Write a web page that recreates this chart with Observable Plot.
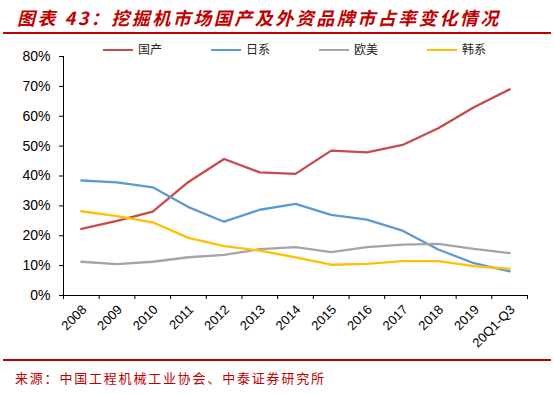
<!DOCTYPE html>
<html><head><meta charset="utf-8">
<script src="https://cdn.jsdelivr.net/npm/d3@7"></script>
<script src="https://cdn.jsdelivr.net/npm/@observablehq/plot@0.6"></script>
<style>
body{margin:0;background:#fff;width:554px;height:394px;position:relative;overflow:hidden;font-family:"Noto Sans CJK SC",sans-serif;}
#title{position:absolute;left:17px;top:4px;font-size:18px;font-weight:bold;font-style:italic;color:#C00000;letter-spacing:2.5px;white-space:nowrap;line-height:26px;}
.rule{position:absolute;left:3px;width:548px;height:2px;background:#C00000;}
#chart{position:absolute;left:0;top:36px;}
#legend{position:absolute;top:40px;left:0;width:554px;height:18px;}
.li{position:absolute;top:0;font-size:12px;line-height:18px;color:#222;white-space:nowrap;}
.li span{display:inline-block;width:30px;height:2px;vertical-align:middle;margin-right:5px;position:relative;top:-1px;}
#source{position:absolute;left:15px;top:368px;font-size:13px;color:#C00000;letter-spacing:1.8px;white-space:nowrap;line-height:20px;}
</style></head>
<body>
<div id="title">图表 43：挖掘机市场国产及外资品牌市占率变化情况</div>
<div class="rule" style="top:32px"></div>
<div id="chart"></div>
<div id="legend"></div>
<div class="rule" style="top:359px"></div>
<div id="source">来源：中国工程机械工业协会、中泰证券研究所</div>
<script>
const years = ["2008","2009","2010","2011","2012","2013","2014","2015","2016","2017","2018","2019","20Q1-Q3"];
const seriesNames = ["国产","日系","欧美","韩系"];
const seriesColors = ["#C94A4A","#5B9BD5","#A5A5A5","#FFC000"];
const domestic = [22.3, 25.0, 28.1, 38.0, 45.7, 41.2, 40.7, 48.5, 47.9, 50.4, 56.0, 63.0, 69.0];
const japan    = [38.5, 37.9, 36.2, 29.6, 24.7, 28.7, 30.7, 27.0, 25.4, 21.7, 15.4, 10.8, 8.1];
const western  = [11.3, 10.5, 11.3, 12.8, 13.6, 15.5, 16.2, 14.5, 16.2, 17.0, 17.3, 15.6, 14.2];
const korean   = [28.2, 26.6, 24.5, 19.3, 16.5, 15.0, 12.8, 10.3, 10.6, 11.5, 11.5, 9.8, 8.9];
const yTicks = [0,10,20,30,40,50,60,70,80];

const seriesValues = [domestic, japan, western, korean];
const data = [];
seriesValues.forEach((vals, k) => vals.forEach((v, i) => data.push({i, v, s: seriesNames[k]})));

const plot = Plot.plot({
  width: 554, height: 322,
  marginTop: 20, marginBottom: 63, marginLeft: 63, marginRight: 27,
  x: {type: "linear", domain: [-0.5, years.length - 0.5]},
  y: {domain: [0, 80]},
  color: {domain: seriesNames, range: seriesColors},
  style: {fontFamily: "'Liberation Sans', Arial, sans-serif", fontSize: "13px", color: "#000", background: "transparent"},
  marks: [
    Plot.axisY({ticks: yTicks, tickFormat: d => d + "%", tickSize: 4, tickPadding: 9, label: null, fontSize: 14, stroke: "#000"}),
    Plot.axisX({ticks: d3.range(0, years.length), tickFormat: i => years[i], tickSize: 0, tickRotate: -45, tickPadding: 12, dx: 3, label: null, fontSize: 13}),
    Plot.axisX({ticks: d3.range(-0.5, years.length, 1), tickFormat: () => "", tickSize: 4, label: null, stroke: "#000"}),
    Plot.ruleX([-0.5], {stroke: "#000"}),
    Plot.ruleY([0], {stroke: "#000"}),
    Plot.line(data, {x: "i", y: "v", stroke: "s", strokeWidth: 2.3})
  ]
});
document.getElementById("chart").appendChild(plot);

const legendX = [103, 211, 319, 427];
const leg = document.getElementById("legend");
seriesNames.forEach((n, k) => {
  const d = document.createElement("div");
  d.className = "li";
  d.style.left = legendX[k] + "px";
  d.innerHTML = `<span style="background:${seriesColors[k]}"></span>${n}`;
  leg.appendChild(d);
});
</script>
</body></html>
